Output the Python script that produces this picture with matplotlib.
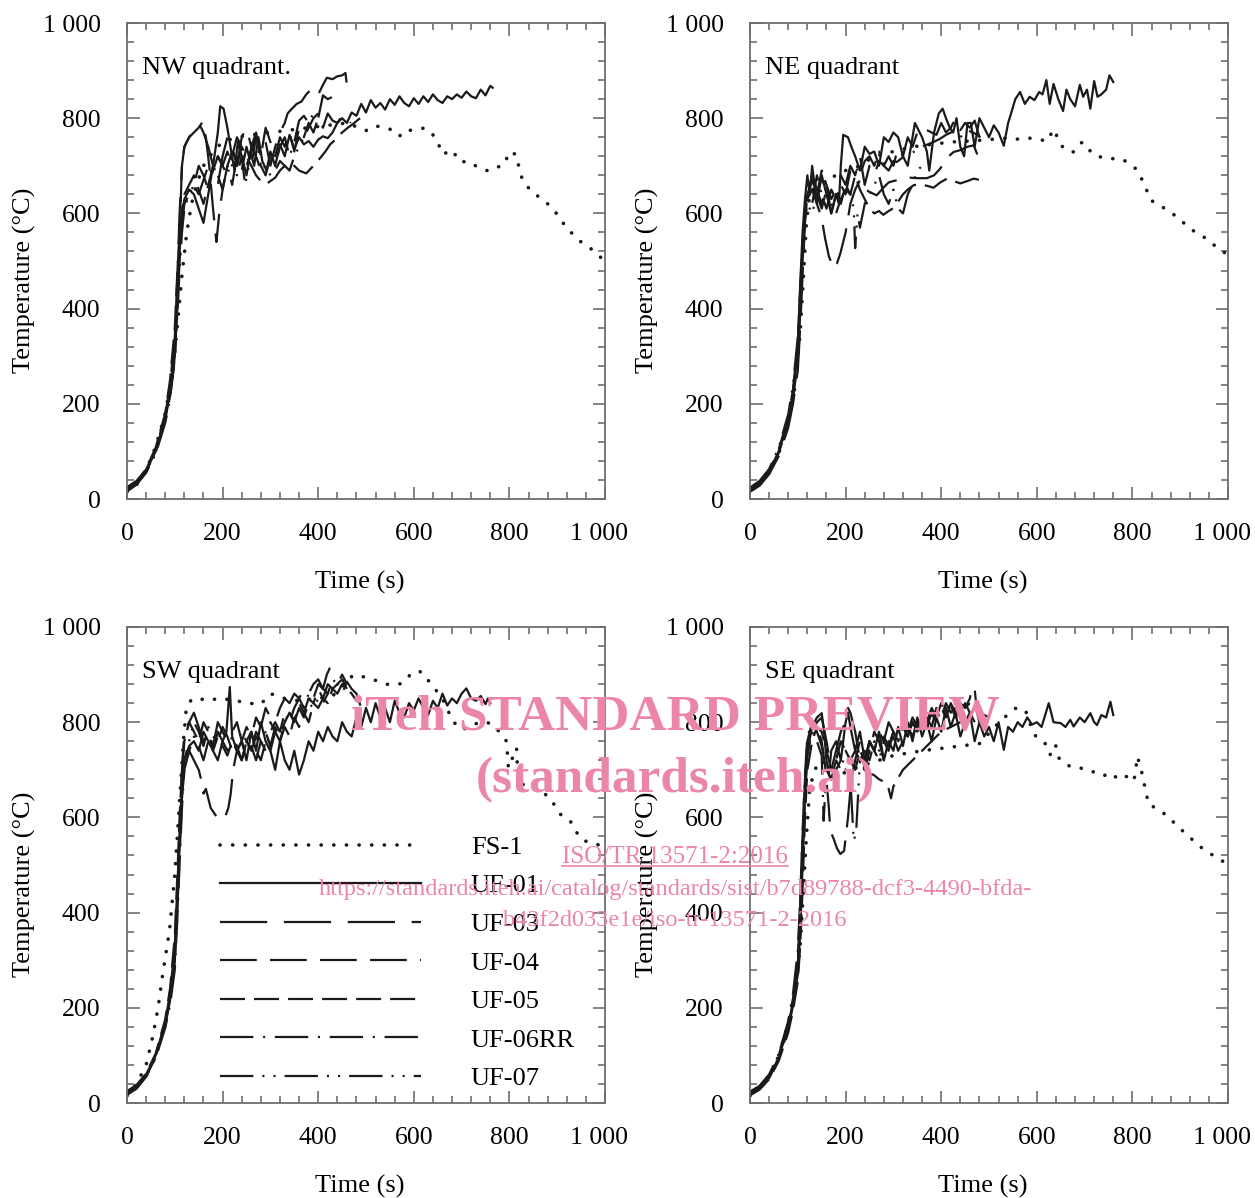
"""Quadrant gas temperature curves, FS-1 vs UF tests."""
import matplotlib
matplotlib.use("Agg")
import matplotlib.pyplot as plt
import matplotlib.ticker as ticker
import matplotlib.transforms as mtransforms
from matplotlib.lines import Line2D

plt.rcParams["font.family"] = ["Liberation Serif", "DejaVu Serif"]
plt.rcParams["lines.scale_dashes"] = False

SERIES = ["FS-1", "UF-01", "UF-03", "UF-04", "UF-05", "UF-06RR", "UF-07"]
QUADRANTS = ["NW quadrant.", "NE quadrant", "SW quadrant", "SE quadrant"]

# ---- NW quadrant (time s, temperature degC) ----
NW_FS1 = [(0, 15), (20, 30), (40, 60), (60, 110), (80, 180), (95, 260), (105, 360), (115, 470), (125, 560),
          (135, 620), (145, 660), (160, 700), (180, 730), (200, 750), (230, 760), (260, 765), (300, 770),
          (340, 775), (380, 780), (420, 785), (460, 790), (500, 774), (520, 784), (550, 777), (570, 762),
          (580, 774), (600, 775), (620, 779), (636, 771), (650, 750), (660, 724), (681, 733), (695, 709),
          (718, 708), (732, 698), (756, 689), (780, 699), (790, 703), (799, 729), (814, 724), (820, 697),
          (827, 671), (845, 647), (868, 630), (891, 611), (908, 585), (928, 561), (951, 539), (976, 522),
          (1000, 499)]
NW_UF01 = [(0, 20), (20, 35), (40, 60), (60, 100), (80, 170), (90, 225), (100, 310), (105, 400), (110, 520),
           (115, 590), (120, 630), (130, 650), (140, 640), (150, 610), (160, 580), (170, 640), (180, 700),
           (190, 770), (195, 825), (202, 820), (210, 780), (218, 730), (225, 690), (232, 750), (240, 720),
           (250, 680), (258, 730), (266, 700), (275, 760), (283, 710), (292, 690), (300, 730), (310, 700),
           (320, 745), (330, 720), (340, 765), (350, 735), (360, 760), (370, 745), (380, 752), (390, 740),
           (400, 755), (410, 762), (420, 758), (430, 770), (440, 790), (450, 800), (460, 790), (470, 812),
           (480, 805), (490, 830), (500, 812), (510, 838), (520, 822), (530, 832), (540, 818), (550, 840),
           (560, 828), (570, 846), (580, 832), (590, 825), (600, 842), (610, 830), (620, 846), (630, 834),
           (640, 850), (650, 838), (660, 832), (670, 846), (680, 840), (690, 850), (700, 843), (710, 856),
           (720, 846), (730, 842), (740, 860), (750, 848), (760, 868), (765, 864)]
NW_UF03 = [(0, 25), (20, 38), (40, 62), (60, 105), (80, 175), (90, 240), (100, 340), (105, 460), (110, 600),
           (115, 700), (120, 740), (130, 760), (140, 775), (150, 790), (160, 770), (170, 740), (180, 700),
           (190, 660), (200, 720), (210, 760), (220, 740), (230, 700), (240, 760), (250, 780), (260, 740),
           (270, 770), (280, 720), (290, 750), (300, 700), (310, 740), (320, 770), (330, 790), (336, 810),
           (345, 820), (355, 830), (365, 835), (375, 850), (385, 860), (392, 866), (400, 850), (410, 870),
           (418, 885), (430, 882), (440, 888), (450, 890), (457, 895), (460, 870), (463, 855)]
NW_UF04 = [(0, 18), (20, 32), (40, 58), (60, 98), (80, 165), (90, 215), (100, 290), (105, 420), (110, 560),
           (115, 700), (120, 740), (130, 760), (140, 770), (150, 780), (158, 792), (165, 760), (172, 700),
           (180, 610), (187, 540), (193, 600), (200, 650), (210, 700), (220, 660), (230, 720), (240, 690),
           (250, 740), (260, 700), (270, 760), (280, 720), (290, 780), (300, 750), (310, 720), (320, 760),
           (330, 740), (340, 770), (350, 730), (360, 780), (370, 760), (380, 790), (390, 770), (400, 800),
           (410, 780), (420, 810), (430, 795), (440, 790), (450, 805), (460, 800), (468, 790)]
NW_UF05 = [(0, 22), (20, 36), (40, 63), (60, 108), (80, 180), (90, 250), (100, 360), (105, 470), (110, 560),
           (115, 610), (120, 640), (130, 660), (140, 680), (150, 650), (160, 620), (170, 660), (180, 700),
           (190, 680), (200, 650), (210, 700), (220, 730), (230, 700), (240, 740), (250, 720), (260, 700),
           (270, 680), (280, 668), (292, 662), (300, 668), (310, 675), (320, 690), (330, 700), (340, 695),
           (350, 700), (360, 690), (375, 684), (390, 700), (403, 715), (415, 730), (425, 745), (438, 757),
           (450, 770), (462, 780), (473, 788), (485, 798), (495, 805)]
NW_UF06 = [(0, 16), (20, 30), (40, 55), (60, 95), (80, 160), (90, 210), (100, 300), (105, 400), (110, 500),
           (115, 580), (120, 620), (130, 640), (140, 660), (150, 700), (160, 680), (170, 650), (180, 690),
           (190, 720), (200, 700), (210, 680), (220, 720), (230, 760), (240, 740), (250, 700), (260, 730),
           (270, 760), (280, 700), (290, 680), (300, 720), (310, 700), (320, 740), (330, 760), (340, 720),
           (350, 750), (360, 795), (370, 805), (380, 790), (390, 810), (400, 800), (410, 848), (420, 840),
           (430, 845), (440, 834)]
NW_UF07 = [(0, 20), (20, 34), (40, 58), (60, 100), (80, 168), (90, 220), (100, 300), (105, 380), (110, 480),
           (115, 560), (120, 610), (130, 640), (140, 660), (150, 640), (160, 670), (170, 700), (180, 680),
           (190, 720), (200, 700), (210, 730), (220, 700), (230, 680), (240, 720), (247, 660), (255, 700),
           (260, 740), (270, 720), (280, 690), (290, 700), (300, 680), (310, 690), (320, 710), (330, 700),
           (340, 690), (350, 720), (360, 740), (370, 760), (380, 780), (390, 800), (400, 810)]

# ---- NE quadrant ----
NE_FS1 = [(0, 18), (20, 30), (40, 55), (60, 95), (80, 160), (95, 240), (105, 350), (112, 470), (118, 580),
          (125, 640), (140, 660), (160, 670), (180, 680), (200, 690), (230, 700), (260, 720), (300, 730),
          (340, 740), (380, 745), (420, 750), (460, 752), (500, 755), (530, 758), (559, 756), (576, 759),
          (594, 757), (622, 752), (635, 777), (646, 754), (656, 736), (677, 729), (695, 750), (720, 722),
          (747, 715), (775, 715), (789, 708), (807, 694), (815, 682), (827, 656), (838, 628), (862, 614),
          (887, 597), (911, 577), (932, 560), (957, 546), (978, 527), (1000, 513)]
NE_UF01 = [(0, 20), (20, 33), (40, 58), (60, 100), (80, 165), (90, 220), (100, 320), (105, 450), (110, 560),
           (115, 630), (120, 680), (125, 640), (130, 700), (135, 660), (140, 620), (150, 680), (160, 640),
           (170, 600), (180, 640), (186, 620), (190, 700), (195, 765), (205, 760), (212, 740), (220, 720),
           (230, 690), (240, 740), (250, 725), (260, 730), (270, 700), (280, 760), (290, 750), (300, 770),
           (310, 760), (320, 720), (330, 700), (340, 760), (345, 790), (350, 780), (360, 760), (370, 730),
           (375, 690), (385, 770), (395, 810), (403, 820), (410, 800), (418, 780), (425, 770), (432, 800),
           (440, 740), (448, 720), (455, 790), (462, 790), (470, 740), (480, 800), (490, 780), (500, 760),
           (510, 785), (520, 770), (531, 742), (540, 790), (545, 806), (555, 840), (565, 855), (575, 830),
           (585, 845), (595, 838), (605, 855), (612, 850), (620, 880), (627, 830), (635, 872), (645, 840),
           (655, 815), (662, 860), (670, 840), (680, 825), (690, 870), (697, 845), (705, 860), (712, 820),
           (720, 878), (727, 845), (735, 850), (745, 860), (752, 890), (760, 876)]
NE_UF03 = [(0, 15), (20, 28), (40, 52), (60, 90), (80, 150), (90, 200), (100, 270), (105, 360), (110, 470),
           (115, 580), (120, 640), (130, 680), (140, 650), (150, 620), (160, 660), (170, 600), (180, 640),
           (190, 680), (200, 660), (210, 700), (220, 680), (230, 720), (240, 660), (250, 700), (260, 680),
           (270, 710), (280, 700), (290, 720), (300, 700), (310, 740), (320, 720), (330, 760), (340, 740),
           (350, 770), (360, 760), (370, 775), (380, 770), (390, 765), (400, 790), (410, 770), (420, 780),
           (430, 800), (440, 775), (450, 790), (460, 780), (470, 795), (480, 760)]
NE_UF04 = [(0, 22), (20, 36), (40, 60), (60, 104), (80, 172), (90, 230), (100, 330), (105, 440), (110, 540),
           (115, 600), (120, 630), (130, 650), (140, 620), (150, 590), (157, 548), (165, 510), (175, 485),
           (182, 495), (189, 516), (200, 560), (210, 620), (220, 650), (230, 670), (240, 652), (250, 645),
           (265, 638), (280, 655), (290, 665), (300, 668), (320, 672), (335, 675), (350, 674), (370, 674),
           (385, 680), (398, 694), (410, 715), (426, 729), (440, 733), (455, 740), (468, 743), (475, 725),
           (478, 708)]
NE_UF05 = [(0, 17), (20, 31), (40, 56), (60, 96), (80, 160), (90, 210), (100, 290), (105, 390), (110, 500),
           (115, 590), (120, 640), (130, 670), (140, 640), (150, 690), (160, 660), (170, 630), (180, 650),
           (190, 620), (200, 660), (210, 640), (220, 680), (230, 650), (240, 630), (250, 610), (260, 600),
           (270, 605), (279, 597), (290, 605), (300, 611), (310, 625), (320, 640), (330, 650), (342, 659),
           (355, 662), (370, 658), (384, 654), (398, 665), (412, 673), (426, 668), (440, 663), (455, 668),
           (468, 673), (482, 670), (496, 673)]
NE_UF06 = [(0, 20), (20, 34), (40, 57), (60, 98), (80, 168), (90, 225), (100, 310), (105, 420), (110, 530),
           (115, 610), (120, 650), (130, 620), (140, 680), (150, 640), (160, 610), (170, 650), (180, 630),
           (190, 660), (200, 640), (210, 690), (220, 700), (230, 680), (240, 710), (250, 720), (260, 700),
           (270, 730), (280, 700), (290, 690), (300, 710), (307, 708), (320, 718), (342, 729), (360, 740),
           (384, 750), (398, 757), (410, 765), (425, 772), (440, 760), (455, 775), (470, 768), (482, 760)]
NE_UF07 = [(0, 24), (20, 38), (40, 63), (60, 108), (80, 178), (90, 240), (100, 340), (105, 430), (110, 520),
           (115, 590), (120, 620), (130, 600), (140, 640), (150, 610), (160, 650), (170, 620), (180, 600),
           (190, 630), (200, 650), (210, 640), (217, 611), (220, 527), (225, 600), (230, 570), (240, 620),
           (250, 640), (260, 660), (270, 680), (280, 640), (290, 620), (300, 650), (310, 610), (320, 600),
           (330, 640), (340, 660), (350, 690), (360, 700), (370, 690)]

# ---- SW quadrant ----
SW_FS1 = [(0, 15), (20, 40), (40, 80), (54, 140), (65, 200), (75, 273), (89, 363), (100, 481), (110, 634),
          (118, 760), (124, 829), (135, 848), (150, 850), (170, 845), (190, 850), (210, 848), (230, 845),
          (250, 840), (280, 838), (300, 860), (330, 850), (360, 845), (400, 850), (430, 855), (473, 899),
          (497, 895), (529, 885), (550, 878), (574, 881), (599, 906), (616, 906), (641, 874), (660, 850),
          (682, 801), (703, 784), (720, 795), (752, 801), (773, 787), (794, 760), (798, 704), (815, 746),
          (818, 676), (829, 669), (857, 662), (885, 641), (906, 607), (927, 593), (941, 568), (955, 551),
          (976, 547), (997, 537)]
SW_UF01 = [(0, 22), (20, 36), (40, 60), (60, 100), (80, 170), (90, 230), (100, 330), (105, 450), (110, 560),
           (115, 660), (120, 720), (130, 750), (140, 760), (150, 740), (160, 780), (170, 760), (180, 740),
           (190, 720), (200, 760), (208, 780), (215, 874), (220, 770), (230, 740), (240, 760), (250, 720),
           (260, 780), (270, 740), (280, 800), (290, 760), (300, 740), (310, 700), (320, 760), (330, 720),
           (340, 700), (350, 740), (360, 690), (370, 720), (380, 760), (390, 740), (400, 780), (410, 760),
           (420, 790), (430, 770), (440, 760), (450, 800), (460, 780), (470, 770), (480, 810), (490, 790),
           (500, 830), (510, 800), (520, 840), (530, 810), (540, 830), (550, 800), (560, 845), (570, 820),
           (580, 810), (590, 840), (600, 825), (610, 850), (620, 830), (630, 815), (640, 845), (650, 830),
           (660, 860), (670, 835), (680, 850), (690, 840), (700, 860), (710, 871), (720, 850), (730, 845),
           (740, 855), (750, 838), (755, 850), (760, 840)]
SW_UF03 = [(0, 18), (20, 30), (40, 56), (60, 96), (80, 162), (90, 215), (100, 300), (105, 410), (110, 560),
           (115, 700), (120, 780), (130, 800), (140, 820), (150, 790), (160, 760), (170, 780), (180, 750),
           (190, 800), (200, 780), (210, 760), (220, 780), (230, 800), (240, 760), (250, 790), (260, 770),
           (270, 810), (280, 790), (290, 830), (300, 810), (310, 800), (320, 830), (330, 850), (340, 840),
           (350, 860), (360, 850), (370, 870), (380, 860), (390, 880), (400, 890), (410, 870), (418, 900),
           (424, 913), (430, 895), (440, 880), (450, 890), (460, 870)]
SW_UF04 = [(0, 20), (20, 34), (40, 58), (60, 98), (80, 166), (90, 222), (100, 310), (105, 420), (110, 540),
           (115, 640), (120, 700), (130, 740), (140, 720), (150, 700), (155, 680), (160, 650), (165, 660),
           (170, 640), (175, 620), (185, 605), (195, 595), (205, 600), (212, 620), (217, 650), (222, 700),
           (230, 740), (240, 760), (250, 730), (260, 750), (270, 720), (280, 760), (290, 780), (300, 750),
           (310, 790), (320, 770), (330, 800), (340, 820), (350, 800), (360, 840), (370, 820), (380, 850),
           (390, 840), (400, 870), (410, 850), (420, 880), (430, 870), (440, 880), (450, 860), (460, 885),
           (470, 870), (480, 860), (490, 830)]
SW_UF05 = [(0, 25), (20, 38), (40, 62), (60, 104), (80, 176), (90, 240), (100, 350), (105, 470), (110, 600),
           (115, 700), (120, 760), (130, 800), (140, 780), (150, 760), (160, 800), (170, 780), (180, 740),
           (190, 770), (200, 750), (210, 730), (220, 760), (230, 740), (240, 720), (250, 760), (260, 780),
           (270, 740), (280, 720), (290, 760), (300, 740), (310, 780), (320, 760), (330, 790), (340, 770),
           (350, 810), (360, 790), (370, 820), (380, 800), (390, 840), (400, 830), (410, 850), (420, 840),
           (430, 870), (440, 860), (450, 880), (460, 870), (470, 860), (480, 845)]
SW_UF06 = [(0, 17), (20, 31), (40, 55), (60, 94), (80, 158), (90, 205), (100, 280), (105, 380), (110, 500),
           (115, 620), (120, 700), (130, 740), (140, 770), (150, 750), (160, 720), (170, 760), (180, 740),
           (190, 780), (200, 760), (210, 740), (220, 770), (230, 750), (240, 720), (250, 760), (260, 740),
           (270, 780), (280, 760), (290, 740), (300, 780), (310, 800), (320, 780), (330, 820), (340, 800),
           (350, 830), (360, 850), (370, 830), (380, 860), (390, 850), (400, 880), (410, 870), (420, 860),
           (430, 890), (440, 880), (450, 900), (460, 880)]
SW_UF07 = [(0, 22), (20, 35), (40, 58), (60, 98), (80, 166), (90, 220), (100, 300), (105, 400), (110, 520),
           (115, 640), (120, 720), (130, 760), (140, 800), (150, 780), (160, 750), (170, 790), (180, 770),
           (190, 760), (200, 790), (210, 770), (220, 740), (230, 760), (240, 780), (250, 760), (260, 740),
           (270, 770), (280, 750), (290, 780), (300, 800), (310, 780), (320, 760), (330, 800), (340, 820),
           (350, 800), (360, 830), (370, 810), (380, 840), (390, 830), (400, 850), (410, 840), (420, 860)]

# ---- SE quadrant ----
SE_FS1 = [(0, 15), (20, 32), (40, 58), (60, 100), (80, 165), (95, 240), (105, 330), (112, 450), (118, 560),
          (125, 660), (135, 700), (150, 720), (170, 700), (190, 690), (210, 700), (240, 710), (270, 720),
          (300, 730), (330, 735), (360, 740), (400, 745), (440, 750), (480, 755), (524, 803), (555, 829),
          (576, 826), (593, 777), (604, 763), (621, 753), (628, 732), (639, 753), (646, 725), (660, 712),
          (677, 704), (698, 703), (723, 694), (740, 687), (751, 694), (768, 683), (779, 690), (793, 683),
          (803, 676), (807, 700), (810, 728), (817, 707), (822, 683), (828, 655), (834, 627), (855, 617),
          (876, 600), (897, 579), (918, 560), (941, 539), (966, 522), (992, 506)]
SE_UF01 = [(0, 20), (20, 32), (40, 55), (60, 95), (80, 160), (90, 210), (100, 280), (105, 380), (110, 520),
           (115, 650), (120, 740), (130, 790), (140, 810), (150, 819), (155, 780), (160, 720), (165, 690),
           (170, 740), (180, 760), (190, 720), (200, 800), (205, 820), (210, 790), (220, 740), (230, 780),
           (240, 720), (250, 760), (260, 740), (270, 780), (280, 720), (290, 760), (300, 740), (310, 790),
           (320, 750), (330, 800), (340, 760), (350, 810), (360, 770), (370, 800), (380, 760), (390, 810),
           (400, 780), (410, 830), (420, 790), (430, 820), (440, 770), (450, 800), (460, 820), (470, 760),
           (480, 800), (490, 770), (500, 790), (510, 760), (520, 800), (531, 742), (540, 790), (550, 780),
           (560, 800), (570, 790), (580, 810), (590, 795), (600, 800), (610, 790), (625, 840), (635, 800),
           (650, 798), (660, 790), (670, 805), (677, 791), (690, 810), (700, 800), (712, 819), (720, 800),
           (726, 794), (735, 815), (745, 810), (754, 843), (760, 815)]
SE_UF03 = [(0, 18), (20, 30), (40, 52), (60, 92), (80, 155), (90, 205), (100, 270), (105, 360), (110, 500),
           (115, 640), (120, 730), (130, 780), (140, 800), (150, 810), (160, 760), (170, 700), (180, 740),
           (190, 780), (200, 800), (205, 830), (210, 820), (220, 780), (230, 720), (240, 700), (250, 760),
           (260, 740), (270, 780), (280, 760), (290, 800), (300, 780), (310, 760), (320, 800), (330, 780),
           (340, 810), (350, 790), (360, 820), (370, 800), (380, 830), (390, 810), (400, 840), (410, 820),
           (420, 835), (430, 810), (440, 840), (450, 830), (460, 850), (465, 878), (470, 870), (475, 820),
           (480, 800)]
SE_UF04 = [(0, 22), (20, 35), (40, 58), (60, 100), (80, 168), (90, 220), (100, 300), (105, 420), (110, 560),
           (115, 680), (120, 760), (130, 800), (140, 790), (150, 760), (158, 700), (165, 620), (168, 572),
           (175, 555), (182, 535), (189, 523), (197, 530), (205, 600), (212, 680), (220, 720), (230, 760),
           (240, 700), (250, 740), (260, 780), (270, 760), (280, 720), (290, 750), (300, 770), (310, 740),
           (320, 760), (330, 790), (340, 770), (350, 800), (360, 780), (370, 810), (380, 790), (390, 830),
           (400, 810), (410, 840), (420, 820), (430, 830), (440, 810), (450, 840), (460, 820), (470, 800)]
SE_UF05 = [(0, 16), (20, 28), (40, 50), (60, 88), (80, 148), (90, 195), (100, 255), (105, 330), (110, 450),
           (115, 600), (120, 700), (130, 760), (140, 790), (150, 780), (160, 740), (170, 700), (180, 720),
           (190, 760), (200, 740), (210, 720), (220, 740), (230, 720), (240, 700), (250, 690), (258, 690),
           (270, 680), (280, 675), (290, 660), (295, 640), (300, 665), (306, 676), (320, 700), (340, 720),
           (360, 740), (380, 760), (400, 780), (420, 790), (440, 800), (460, 810), (480, 820), (500, 810)]
SE_UF06 = [(0, 24), (20, 36), (40, 60), (60, 102), (80, 172), (90, 230), (100, 320), (105, 430), (110, 570),
           (115, 690), (120, 770), (130, 800), (140, 780), (150, 750), (160, 700), (170, 680), (180, 720),
           (190, 700), (200, 740), (210, 720), (220, 700), (230, 740), (240, 720), (250, 760), (260, 740),
           (270, 720), (280, 760), (290, 740), (300, 780), (310, 760), (320, 790), (330, 770), (340, 800),
           (350, 780), (360, 810), (370, 790), (380, 820), (390, 800), (400, 830), (410, 810), (420, 840),
           (430, 820), (440, 850), (450, 830), (460, 840)]
SE_UF07 = [(0, 20), (20, 33), (40, 56), (60, 96), (80, 162), (90, 212), (100, 290), (105, 400), (110, 540),
           (115, 660), (120, 740), (130, 780), (140, 760), (150, 730), (154, 593), (160, 700), (170, 680),
           (180, 700), (190, 720), (200, 700), (210, 680), (217, 551), (222, 568), (230, 720), (240, 740),
           (250, 720), (260, 760), (270, 740), (280, 770), (290, 750), (300, 780), (310, 760), (320, 790),
           (330, 770), (340, 800), (350, 780), (360, 810), (370, 790), (380, 820), (390, 800)]

PANELS = [
    [NW_FS1, NW_UF01, NW_UF03, NW_UF04, NW_UF05, NW_UF06, NW_UF07],
    [NE_FS1, NE_UF01, NE_UF03, NE_UF04, NE_UF05, NE_UF06, NE_UF07],
    [SW_FS1, SW_UF01, SW_UF03, SW_UF04, SW_UF05, SW_UF06, SW_UF07],
    [SE_FS1, SE_UF01, SE_UF03, SE_UF04, SE_UF05, SE_UF06, SE_UF07],
]

STYLES = {
    "FS-1": dict(linestyle=(0, (0.1, 9.0)), lw=2.6, dash_capstyle="round"),
    "UF-01": dict(linestyle="-", lw=1.6),
    "UF-03": dict(linestyle=(0, (34, 12)), lw=1.6),
    "UF-04": dict(linestyle=(0, (26.5, 9.5)), lw=1.6),
    "UF-05": dict(linestyle=(0, (18, 6.5)), lw=1.6),
    "UF-06RR": dict(linestyle=(0, (24, 7, 1.5, 7)), lw=1.6),
    "UF-07": dict(linestyle=(0, (24, 6.5, 1.5, 6.5, 1.5, 6.5)), lw=1.6),
}

SPINE = "#6e6e6e"
PINK = "#ec86a6"
FS = 19
TFS = 18.5

fig = plt.figure(figsize=(12.55, 11.98), dpi=100)
W, H = 1255, 1198
boxes = [(127, 23), (750, 23), (127, 627), (750, 627)]
aw, ah = 478, 476

fmt = ticker.FuncFormatter(lambda v, p: f"{int(v):,}".replace(",", " "))
shift_left = mtransforms.ScaledTranslation(-6 / 100, 0, fig.dpi_scale_trans)

axes = []
for (px, py), name, panel in zip(boxes, QUADRANTS, PANELS):
    ax = fig.add_axes([px / W, 1 - (py + ah) / H, aw / W, ah / H])
    for label, series in zip(SERIES, panel):
        t = [p[0] for p in series]
        v = [p[1] for p in series]
        ax.plot(t, v, color="#1a1a1a", label=label, **STYLES[label])
    ax.set_xlim(0, 1000)
    ax.set_ylim(0, 1000)
    ax.xaxis.set_major_locator(ticker.MultipleLocator(200))
    ax.yaxis.set_major_locator(ticker.MultipleLocator(200))
    ax.xaxis.set_minor_locator(ticker.MultipleLocator(40))
    ax.yaxis.set_minor_locator(ticker.MultipleLocator(40))
    ax.xaxis.set_major_formatter(fmt)
    ax.yaxis.set_major_formatter(fmt)
    ax.tick_params(which="both", direction="in", top=True, right=True,
                   color=SPINE, width=1.2, labelsize=TFS)
    ax.tick_params(axis="x", pad=17)
    ax.tick_params(axis="y", pad=19)
    ax.tick_params(which="major", length=9)
    ax.tick_params(which="minor", length=5)
    for s in ax.spines.values():
        s.set_color(SPINE)
        s.set_linewidth(1.3)
    ax.set_xlabel("Time (s)", fontsize=FS)
    ax.set_ylabel("Temperature (°C)", fontsize=FS)
    ax.xaxis.set_label_coords(0.487, -0.152)
    ax.yaxis.set_label_coords(-0.19, 0.46)
    ax.text(0.031, 0.906, name, transform=ax.transAxes, va="center", ha="left", fontsize=FS)
    axes.append(ax)

axes[2].legend(loc="upper left", bbox_to_anchor=(0.195, 0.562), frameon=False,
               fontsize=FS, handlelength=7.6, handletextpad=1.9, labelspacing=0.57,
               borderpad=0, borderaxespad=0)

# the "1 000" time label sits a little left of its tick in the source figure
fig.canvas.draw()
for ax in axes:
    for tick in ax.xaxis.get_major_ticks():
        if abs(tick.get_loc() - 1000) < 1e-6:
            tick.label1.set_transform(tick.label1.get_transform() + shift_left)

# watermark overlay
fig.text(675 / W, 1 - 718 / H, "iTeh STANDARD PREVIEW", color=PINK, fontsize=37,
         fontweight="bold", ha="center", va="center")
fig.text(675 / W, 1 - 780 / H, "(standards.iteh.ai)", color=PINK, fontsize=37,
         fontweight="bold", ha="center", va="center")
iso = fig.text(675 / W, 1 - 857 / H, "ISO/TR 13571-2:2016", color=PINK, fontsize=18,
               ha="center", va="center")
fig.text(675 / W, 1 - 890 / H,
         "https://standards.iteh.ai/catalog/standards/sist/b7d89788-dcf3-4490-bfda-",
         color=PINK, fontsize=17.6, ha="center", va="center")
fig.text(675 / W, 1 - 921 / H, "b43f2d033e1e/iso-tr-13571-2-2016", color=PINK, fontsize=17.6,
         ha="center", va="center")

fig.canvas.draw()
bb = iso.get_window_extent().transformed(fig.transFigure.inverted())
fig.add_artist(Line2D([bb.x0, bb.x1], [bb.y0 + 0.002, bb.y0 + 0.002], color=PINK, lw=1.2,
                      transform=fig.transFigure))

fig.savefig("out.png", dpi=100)
